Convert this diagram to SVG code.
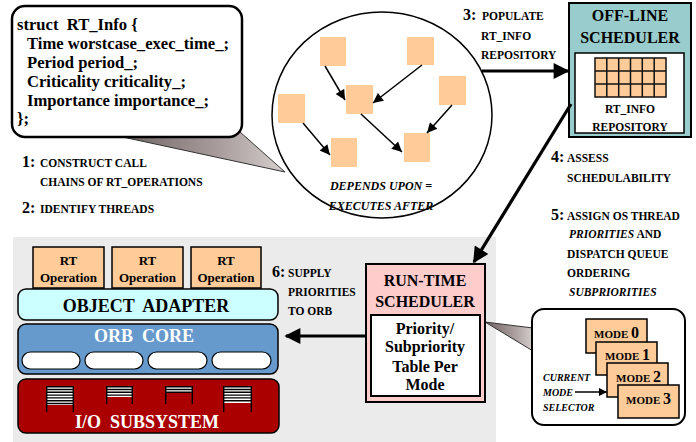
<svg xmlns="http://www.w3.org/2000/svg" width="696" height="442" viewBox="0 0 696 442">
<defs>
<style>
text{font-family:"Liberation Serif","Times New Roman",serif;font-weight:bold;fill:#000;white-space:pre}
.big{font-size:16px}
.code{font-size:16.6px}
.sm{font-size:11.5px}
.it{font-style:italic}
.c{text-anchor:middle}
.op{fill:#FFCC99;stroke:#000;stroke-width:1.5}
.thin{stroke:#000;stroke-width:1.5;fill:none}
.thick{stroke:#000;stroke-width:3.2;fill:none}
.wedge{fill:url(#wg);stroke:#333;stroke-width:1}
.pill{fill:#fff;stroke:#000;stroke-width:1.2}
.q{stroke:#000;stroke-width:1.4}
</style>
<linearGradient id="wg" x1="0" y1="0" x2="1" y2="0">
<stop offset="0" stop-color="#6e6262"/>
<stop offset="0.6" stop-color="#a89c9c"/>
<stop offset="1" stop-color="#d6cece"/>
</linearGradient>
<marker id="ah" viewBox="0 0 10 10" refX="10" refY="5" markerWidth="8" markerHeight="8" markerUnits="userSpaceOnUse" orient="auto"><path d="M0,0 L10,5 L0,10 z" fill="#000"/></marker>
<marker id="ahs" viewBox="0 0 10 10" refX="10" refY="5" markerWidth="11" markerHeight="10" markerUnits="userSpaceOnUse" orient="auto"><path d="M0,0 L10,5 L0,10 z" fill="#000"/></marker>
<marker id="ahb" viewBox="0 0 10 10" refX="9" refY="5" markerWidth="17" markerHeight="16" markerUnits="userSpaceOnUse" orient="auto"><path d="M0,0 L10,5 L0,10 z" fill="#000"/></marker>
</defs>

<!-- gray panel -->
<rect x="13" y="237" width="483" height="205" fill="#EBEBEB"/>

<!-- callout wedges -->
<polygon class="wedge" points="118,136 240,132 285,172"/>
<polygon class="wedge" points="485,322 533,328 533,351"/>

<!-- code box -->
<g id="rtinfo">
<rect x="12" y="6" width="230" height="131" rx="13" fill="#fff" stroke="#000" stroke-width="2.5"/>
<text class="code" x="17" y="30">struct  RT_Info {</text>
<text class="code" x="27" y="49">Time worstcase_exec_time_;</text>
<text class="code" x="27" y="68">Period period_;</text>
<text class="code" x="27" y="87">Criticality criticality_;</text>
<text class="code" x="27" y="106">Importance importance_;</text>
<text class="code" x="17" y="124">};</text>
</g>

<!-- dependency circle -->
<g id="callchain">
<ellipse cx="382" cy="115" rx="110" ry="103" fill="#fff" stroke="#000" stroke-width="1.5"/>
<rect x="320" y="37" width="26" height="29" fill="#FFCC99"/>
<rect x="407" y="37" width="27" height="28" fill="#FFCC99"/>
<rect x="346" y="85" width="27" height="29" fill="#FFCC99"/>
<rect x="439" y="76" width="27" height="29" fill="#FFCC99"/>
<rect x="278" y="94" width="27" height="29" fill="#FFCC99"/>
<rect x="331" y="138" width="26" height="29" fill="#FFCC99"/>
<rect x="404" y="133" width="26" height="29" fill="#FFCC99"/>
<text class="it c" x="381" y="190" font-size="12">DEPENDS UPON =</text>
<text class="it c" x="381" y="210" font-size="12">EXECUTES AFTER</text>
</g>

<!-- offline scheduler -->
<g id="offline">
<rect x="569" y="3" width="122" height="134" fill="#99CCCC" stroke="#000" stroke-width="2"/>
<text class="big c" x="630" y="21">OFF-LINE</text>
<text class="big c" x="630" y="43">SCHEDULER</text>
<rect x="575" y="53" width="109" height="80" fill="#fff" stroke="#000" stroke-width="1.5"/>
<rect x="595" y="58" width="71" height="39" fill="#FFCC99" stroke="#111" stroke-width="1.5"/>
<path d="M606.8,58V97M618.7,58V97M630.5,58V97M642.3,58V97M654.2,58V97M595,71H666M595,84H666" stroke="#111" stroke-width="1.5"/>
<text class="sm c" x="630" y="113">RT_INFO</text>
<text class="sm c" x="630" y="131">REPOSITORY</text>
</g>

<!-- run-time scheduler -->
<g id="runtime">
<rect x="366" y="264" width="119" height="138" fill="#FFCCCC" stroke="#000" stroke-width="2"/>
<text class="big c" x="425" y="286">RUN-TIME</text>
<text class="big c" x="425" y="307">SCHEDULER</text>
<rect x="371" y="315" width="109" height="81" fill="#fff" stroke="#000" stroke-width="2"/>
<text class="big c" x="425" y="334">Priority/</text>
<text class="big c" x="425" y="352">Subpriority</text>
<text class="big c" x="425" y="372">Table Per</text>
<text class="big c" x="425" y="390">Mode</text>
</g>

<!-- mode box -->
<g id="modes">
<rect x="532" y="309" width="153" height="116" rx="12" fill="#fff" stroke="#000" stroke-width="2"/>
<rect class="op" x="586" y="319" width="61" height="34"/>
<text x="594" y="338"><tspan font-size="11">MODE </tspan><tspan font-size="16">0</tspan></text>
<rect class="op" x="596" y="342" width="61" height="33"/>
<text x="605" y="360"><tspan font-size="11">MODE </tspan><tspan font-size="16">1</tspan></text>
<rect class="op" x="607" y="363" width="61" height="34"/>
<text x="616" y="382"><tspan font-size="11">MODE </tspan><tspan font-size="16">2</tspan></text>
<rect class="op" x="618" y="385" width="61" height="33"/>
<text x="626" y="404"><tspan font-size="11">MODE </tspan><tspan font-size="16">3</tspan></text>
<text class="it" x="543" y="381" font-size="10">CURRENT</text>
<text class="it" x="543" y="396" font-size="10">MODE</text>
<text class="it" x="543" y="411" font-size="10">SELECTOR</text>
</g>

<!-- ORB stack -->
<g id="rtop1"><rect class="op" x="33" y="247" width="71" height="41"/><text class="c" font-size="13" x="68.5" y="265">RT</text><text class="c" font-size="13" x="68.5" y="282">Operation</text></g>
<g id="rtop2"><rect class="op" x="112" y="247" width="71" height="41"/><text class="c" font-size="13" x="147.5" y="265">RT</text><text class="c" font-size="13" x="147.5" y="282">Operation</text></g>
<g id="rtop3"><rect class="op" x="191" y="247" width="70" height="41"/><text class="c" font-size="13" x="226" y="265">RT</text><text class="c" font-size="13" x="226" y="282">Operation</text></g>

<g id="adapter">
<rect x="18" y="289" width="260" height="31" rx="8" fill="#CCFFFF" stroke="#000" stroke-width="1.5"/>
<text class="c" font-size="18" x="146" y="312">OBJECT  ADAPTER</text>
</g>

<g id="orbcore">
<rect x="18" y="324" width="260" height="50" rx="8" fill="#6699CC" stroke="#000" stroke-width="1.5"/>
<text class="c" font-size="18" x="144" y="342" style="fill:#fff">ORB  CORE</text>
<rect class="pill" x="22" y="352" width="58" height="17" rx="8.5"/>
<rect class="pill" x="85" y="352" width="58" height="17" rx="8.5"/>
<rect class="pill" x="148" y="352" width="59" height="17" rx="8.5"/>
<rect class="pill" x="212" y="352" width="59" height="17" rx="8.5"/>
</g>

<g id="io">
<rect x="18" y="379" width="261" height="54" rx="8" fill="#AA0000" stroke="#000" stroke-width="1.5"/>
<rect x="46" y="386" width="28" height="19" fill="#fff"/>
<path class="q" d="M46,386.7H74M46,389.5H74M46,392.3H74M46,395.1H74M46,397.9H74M46,400.7H74M46,403.5H74M46.7,386V412M73.3,386V412"/>
<rect x="106" y="386" width="27" height="11" fill="#fff"/>
<path class="q" d="M106,386.7H133M106,389.5H133M106,392.3H133M106,395.1H133M106.7,386V404M132.3,386V404"/>
<rect x="165" y="386" width="28" height="7" fill="#fff"/>
<path class="q" d="M165,386.7H193M165,389.5H193M165,392.3H193M165.7,386V404M192.3,386V404"/>
<rect x="223" y="386" width="29" height="17" fill="#fff"/>
<path class="q" d="M223,386.7H252M223,389.5H252M223,392.3H252M223,395.1H252M223,397.9H252M223,400.7H252M223.7,386V412M251.3,386V412"/>
<text class="c" font-size="18" x="147" y="428" style="fill:#fff">I/O  SUBSYSTEM</text>
</g>

<!-- connectors -->
<g id="connectors">
<line class="thin" x1="325" y1="66" x2="345" y2="100" marker-end="url(#ahs)"/>
<line class="thin" x1="422" y1="65" x2="373" y2="103" marker-end="url(#ahs)"/>
<line class="thin" x1="303" y1="123" x2="330" y2="155" marker-end="url(#ahs)"/>
<line class="thin" x1="361" y1="114" x2="402" y2="152" marker-end="url(#ahs)"/>
<line class="thin" x1="452" y1="105" x2="427" y2="133" marker-end="url(#ahs)"/>
<line class="thick" x1="482" y1="71" x2="568" y2="71" marker-end="url(#ahb)"/>
<line class="thick" x1="571" y1="104" x2="474" y2="262" marker-end="url(#ahb)"/>
<line class="thick" x1="366" y1="336" x2="286" y2="336" marker-end="url(#ahb)"/>
<line class="thin" x1="575" y1="392" x2="607" y2="392" marker-end="url(#ah)"/>
</g>

<!-- step labels -->
<g id="labels">
<text x="22" y="167"><tspan class="big">1:</tspan><tspan class="sm" x="40">CONSTRUCT CALL</tspan></text>
<text class="sm" x="40" y="186">CHAINS OF RT_OPERATIONS</text>
<text x="22" y="213"><tspan class="big">2:</tspan><tspan class="sm" x="40">IDENTIFY THREADS</tspan></text>
<text x="463" y="20"><tspan class="big">3:</tspan><tspan class="sm" x="482">POPULATE</tspan></text>
<text class="sm" x="481" y="40">RT_INFO</text>
<text class="sm" x="481" y="59">REPOSITORY</text>
<text x="551" y="162"><tspan class="big">4:</tspan><tspan class="sm" x="567">ASSESS</tspan></text>
<text class="sm" x="567" y="182">SCHEDULABILITY</text>
<text x="551" y="220"><tspan class="big">5:</tspan><tspan class="sm" x="567">ASSIGN OS THREAD</tspan></text>
<text class="sm" x="569" y="238"><tspan class="it">PRIORITIES</tspan> AND</text>
<text class="sm" x="567" y="258">DISPATCH QUEUE</text>
<text class="sm" x="567" y="277">ORDERING</text>
<text class="sm it" x="569" y="296">SUBPRIORITIES</text>
<text x="272" y="277"><tspan class="big">6:</tspan><tspan class="sm" x="288">SUPPLY</tspan></text>
<text class="sm" x="288" y="296">PRIORITIES</text>
<text class="sm" x="288" y="315">TO ORB</text>
</g>
</svg>
